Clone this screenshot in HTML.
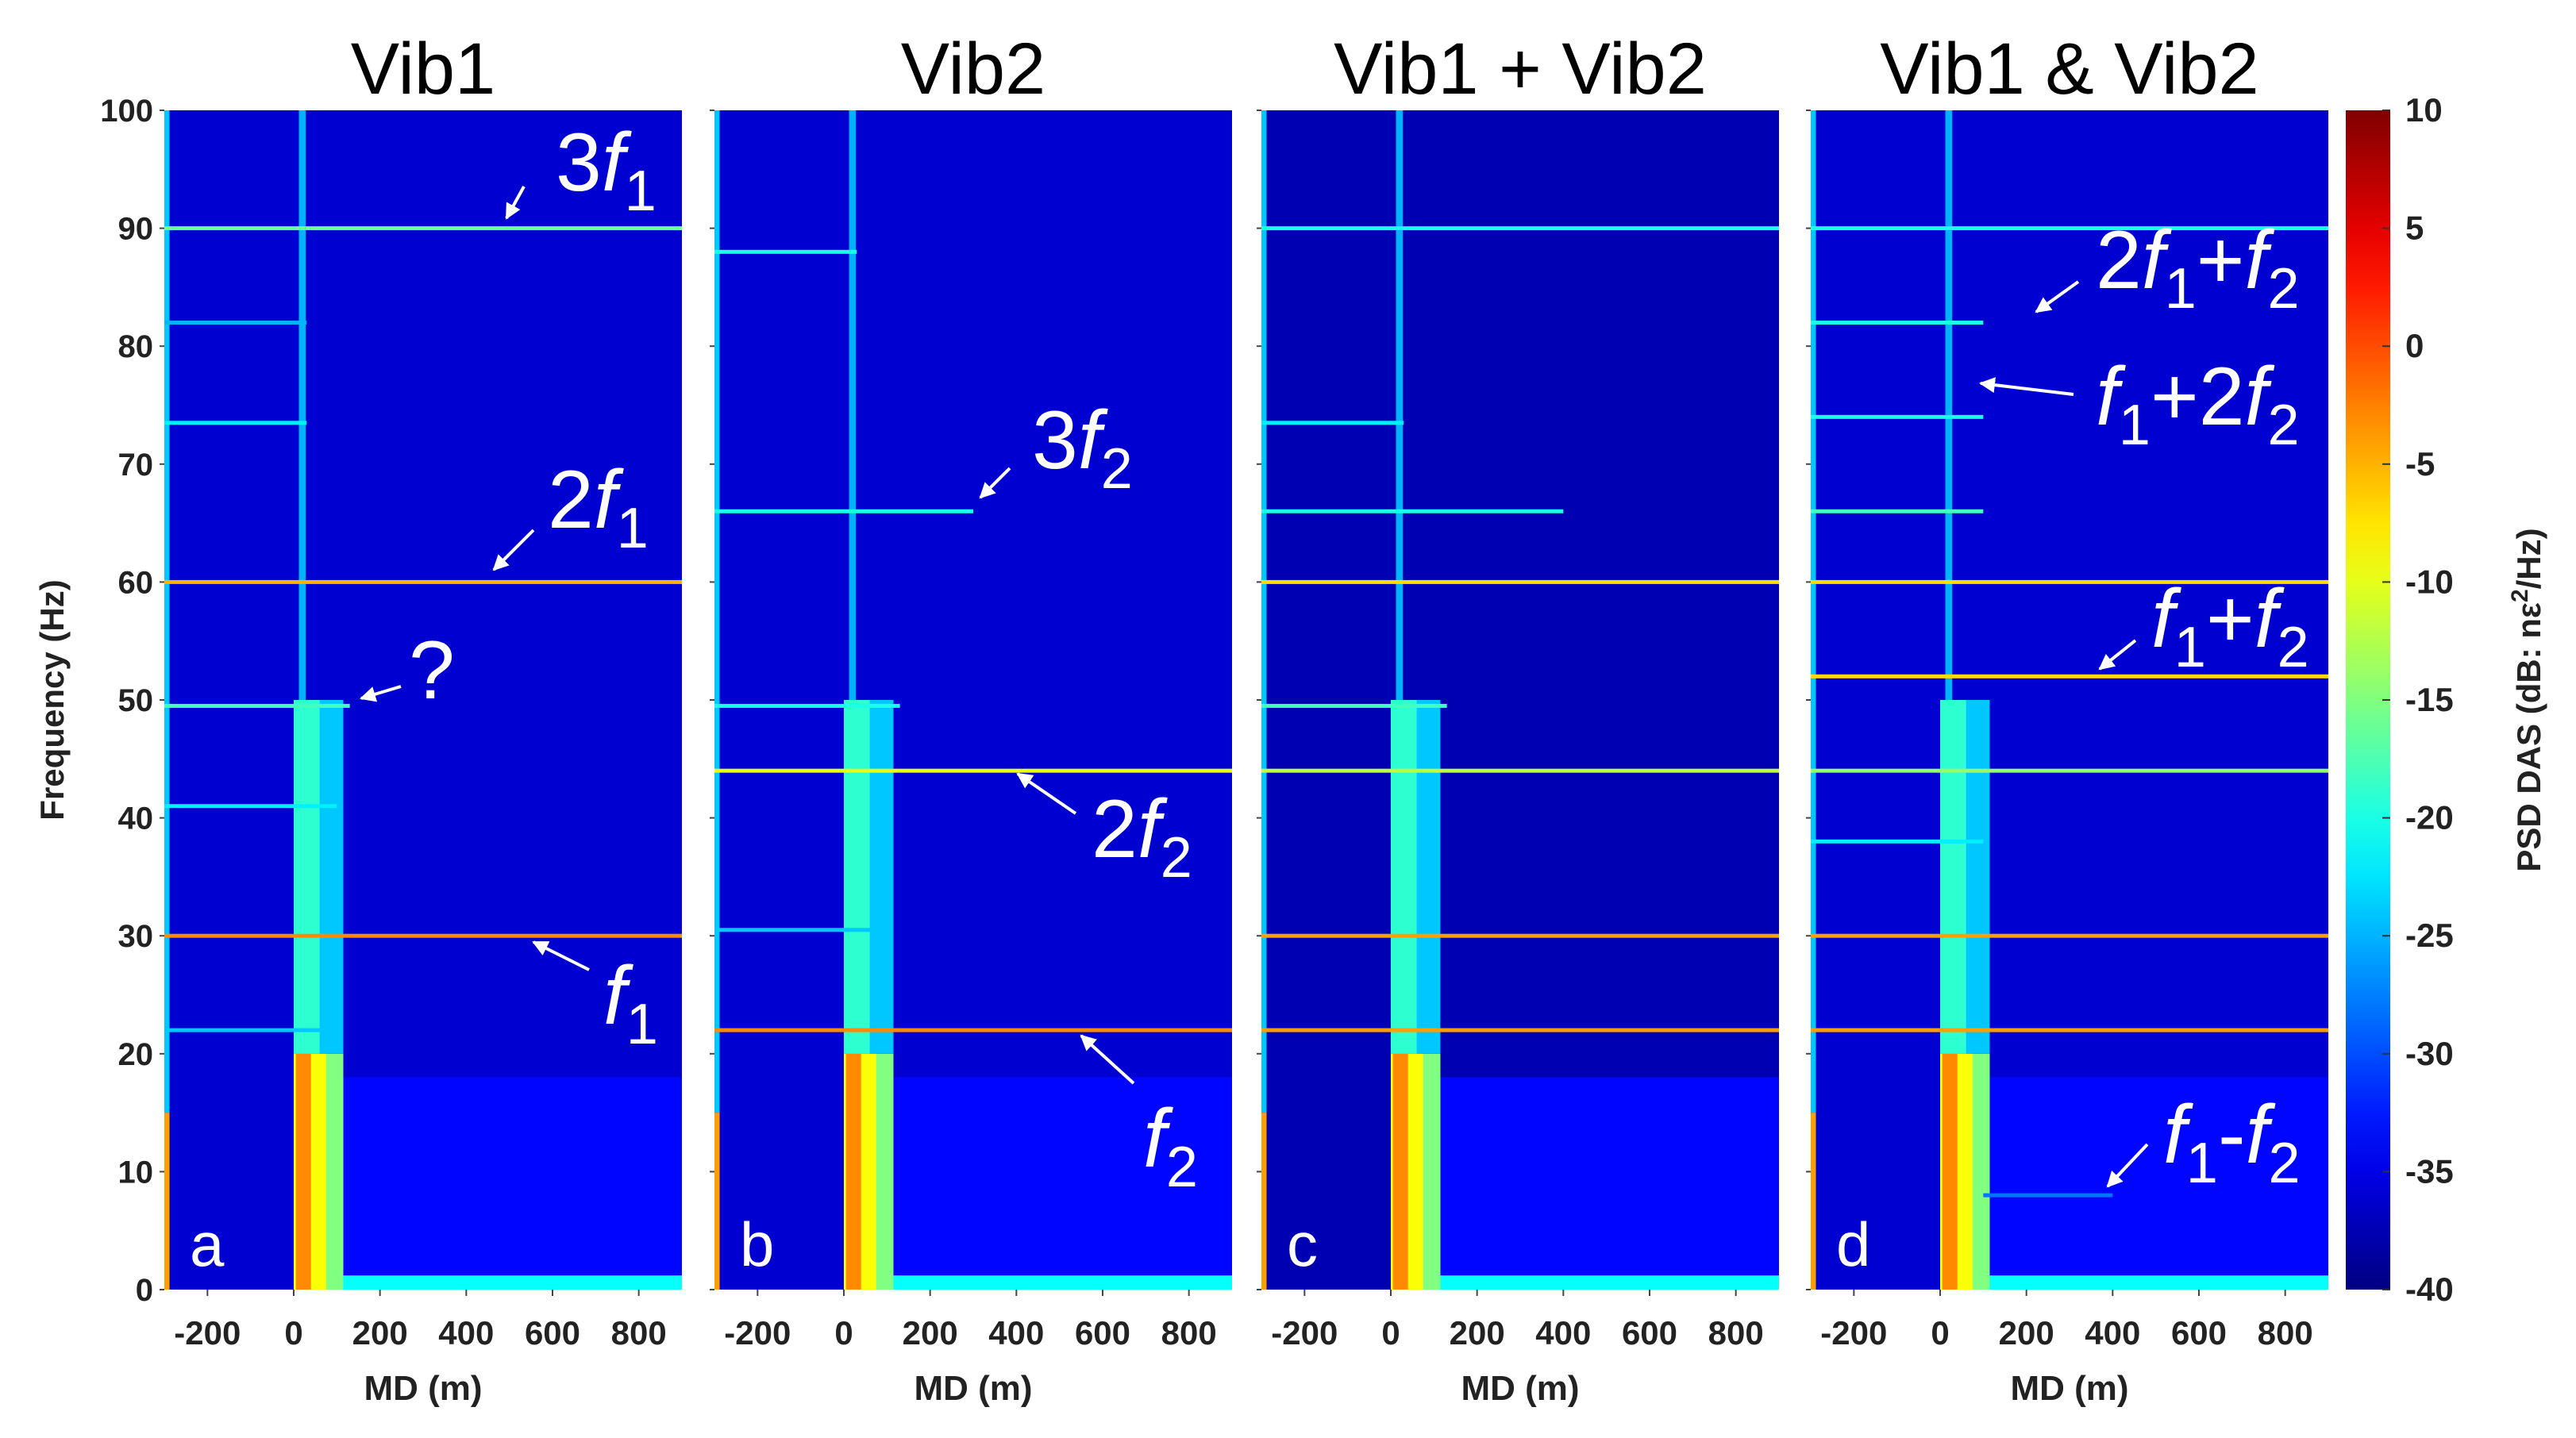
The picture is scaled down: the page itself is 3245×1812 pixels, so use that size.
<!DOCTYPE html>
<html><head><meta charset="utf-8"><style>
html,body{margin:0;padding:0;background:#fff;}
svg{display:block;font-family:"Liberation Sans",Arial,sans-serif;}
</style></head><body>
<svg id="chart" width="3245" height="1812" viewBox="0 0 3245 1812" xmlns="http://www.w3.org/2000/svg">
<defs><linearGradient id="jetgrad" x1="0" y1="1" x2="0" y2="0"></linearGradient>
<marker id="arr" viewBox="0 0 10 10" refX="9" refY="5" markerWidth="5" markerHeight="5" orient="auto"><path d="M0,0 L10,5 L0,10 z" fill="#fff"/></marker></defs>
<g id="panels"></g>
<g id="overlay"></g>
</svg>
<script>
// ---- data ----
const panelTitles = ["Vib1","Vib2","Vib1 + Vib2","Vib1 & Vib2"];
const panelLetters = ["a","b","c","d"];
const panelLefts = [207, 900, 1589, 2281];
const xTicks = [-200,0,200,400,600,800];
const yTicks = [0,10,20,30,40,50,60,70,80,90,100];
const cbTicks = [10,5,0,-5,-10,-15,-20,-25,-30,-35,-40];
const bgDb = [-36,-36,-37.5,-36];
// shared well / near-field features: [mdLo, mdHi, fLo, fHi, dB]
const wellMdLo = [100, 100, 0, 0, 5, 0, 0, 12, -300, -300];
const wellMdHi = [900, 900, 115, 75, 40, 115, 60, 28, -288, -288];
const wellFLo = [1.2, 0, 0, 0, 0, 20, 20, 50, 0, 15];
const wellFHi = [18, 1.2, 20, 20, 20, 50, 50, 100, 15, 100];
const wellDb = [-33.5, -21, -15, -9, -3, -24, -19, -25, -4, -24];
// horizontal lines per panel: freq, mdStart, mdEnd, dB
const lineFreq = [
 [30, 60, 90, 49.5, 73.5, 82, 41, 22],
 [22, 44, 66, 88, 49.5, 30.5],
 [30, 22, 60, 44, 66, 90, 49.5, 73.5],
 [30, 22, 60, 52, 44, 90, 82, 74, 66, 38, 8]
];
const lineStart = [
 [-300,-300,-300,-300,-300,-300,-300,-300],
 [-300,-300,-300,-300,-300,-300],
 [-300,-300,-300,-300,-300,-300,-300,-300],
 [-300,-300,-300,-300,-300,-300,-300,-300,-300,-300,100]
];
const lineEnd = [
 [900,900,900,130,30,30,100,100],
 [900,900,300,30,130,100],
 [900,900,900,900,400,900,130,30],
 [900,900,900,900,900,900,100,100,100,100,400]
];
const lineDb = [
 [-3,-5,-16,-18,-22,-25,-22,-24],
 [-3,-10,-20,-20,-20,-24],
 [-4,-4,-7,-12,-20,-20,-18,-22],
 [-4,-4,-7,-7,-14,-20,-20,-20,-18,-22,-28]
];
const annText = [
 [["3","f","1"],["2","f","1"],["?"],["","f","1"]],
 [["3","f","2"],["2","f","2"],["","f","2"]],
 [],
 [["2","f","1","+","f","2"],["","f","1","+2","f","2"],["","f","1","+","f","2"],["","f","1","-","f","2"]]
];
const annPos = [
 [[700,240,660,235,638,275],[690,665,672,668,622,718],[515,880,505,865,455,880],[760,1290,742,1222,672,1187]],
 [[1300,590,1272,590,1235,627],[1375,1080,1355,1025,1282,975],[1440,1470,1428,1365,1362,1305]],
 [],
 [[2640,363,2618,355,2565,393],[2640,535,2612,497,2495,483],[2710,815,2690,807,2645,843],[2725,1465,2705,1442,2655,1495]]
];
// ---- axes ----
const PW = 652, TOP = 139, BOT = 1625;
const MDmin = -300, MDmax = 900;
function xS(p, md){ return panelLefts[p] + (md-MDmin)/(MDmax-MDmin)*PW; }
function yS(f){ return BOT - f/100*(BOT-TOP); }
function jet(db){
  let t=(db+40)/50; t=Math.max(0,Math.min(1,t));
  const c=v=>Math.round(255*Math.max(0,Math.min(1,v)));
  return `rgb(${c(1.5-Math.abs(4*t-3))},${c(1.5-Math.abs(4*t-2))},${c(1.5-Math.abs(4*t-1))})`;
}
const NS="http://www.w3.org/2000/svg";
const G=document.getElementById('panels');
const OV=document.getElementById('overlay');
function mk(tag, attrs, parent){
  const e=document.createElementNS(NS,tag);
  for(const k in attrs) e.setAttribute(k,attrs[k]);
  parent.appendChild(e); return e;
}
for(let p=0;p<4;p++){
  const g=mk('g',{},G);
  
  
  const bg=mk('rect',{x:xS(p,MDmin),y:yS(100),width:PW,height:BOT-TOP,fill:jet(bgDb[p])},g);
  
  
  for(let i=0;i<wellDb.length;i++){
    const x0=xS(p,wellMdLo[i]), x1=xS(p,wellMdHi[i]);
    const r=mk('rect',{x:x0,y:yS(wellFHi[i]),width:x1-x0,height:yS(wellFLo[i])-yS(wellFHi[i]),fill:jet(wellDb[i])},g);
    
    
  }
  for(let i=0;i<lineFreq[p].length;i++){
    const x0=xS(p,lineStart[p][i]), x1=xS(p,lineEnd[p][i]);
    const r=mk('rect',{x:x0,y:yS(lineFreq[p][i])-2.5,width:x1-x0,height:5,fill:jet(lineDb[p][i])},g);
    
    
  }
  const t=mk('text',{x:panelLefts[p]+PW/2,y:118,'font-size':92,'text-anchor':'middle',fill:'#000'},g);
  t.textContent=panelTitles[p];
  
  
  for(const v of yTicks){
    mk('line',{x1:panelLefts[p]-6,x2:panelLefts[p],y1:yS(v),y2:yS(v),stroke:'#444','stroke-width':2},g);
    if(p===0){
      const tl=mk('text',{x:panelLefts[p]-14,y:yS(v)+14,'font-size':40,'font-weight':'bold','text-anchor':'end',fill:'#222'},g);
      tl.textContent=v;
      
      
    }
  }
  for(const v of xTicks){
    mk('line',{x1:xS(p,v),x2:xS(p,v),y1:BOT,y2:BOT+8,stroke:'#444','stroke-width':2},g);
    const tl=mk('text',{x:xS(p,v),y:1694,'font-size':42,'font-weight':'bold','text-anchor':'middle',fill:'#222'},g);
    tl.textContent=v;
    
    
  }
  const xl=mk('text',{x:panelLefts[p]+PW/2,y:1764,'font-size':44,'font-weight':'bold','text-anchor':'middle',fill:'#222'},g);
  xl.textContent='MD (m)';
  
  
  const lt=mk('text',{x:panelLefts[p]+32,y:1595,'font-size':78,fill:'#fff'},g);
  lt.textContent=panelLetters[p];
  
  
  for(let i=0;i<annText[p].length;i++){
    const a=annText[p][i], q=annPos[p][i];
    const tx=mk('text',{x:q[0],y:q[1],'font-size':104,fill:'#fff'},OV);
    
    
    let k=0;
    while(k<a.length){
      const pieces=[[a[k],''],[a[k+1],'i'],[a[k+2],'s']];
      for(const [s,st] of pieces){
        if(s===undefined||s==='') continue;
        const ts=mk('tspan',{},tx);
        if(st==='i'){ts.setAttribute('font-style','italic');}
        if(st==='s'){ts.setAttribute('baseline-shift','-35%');ts.setAttribute('font-size','72');}
        ts.textContent=s;
      }
      k+=3;
    }
    const ar=mk('line',{x1:q[2],y1:q[3],x2:q[4],y2:q[5],stroke:'#fff','stroke-width':4,'marker-end':'url(#arr)'},OV);
    
    
  }
}
const yt=mk('text',{x:0,y:0,'font-size':42,'font-weight':'bold','text-anchor':'middle',fill:'#222',transform:`translate(80,${(TOP+BOT)/2}) rotate(-90)`},OV);
yt.textContent='Frequency (Hz)';


const grad=document.getElementById('jetgrad');
for(let i=0;i<=20;i++){ mk('stop',{offset:(i/20),'stop-color':jet(-40+50*i/20)},grad); }
const CBX=2955, CBW=56;
const cb=mk('rect',{x:CBX,y:TOP,width:CBW,height:BOT-TOP,fill:'url(#jetgrad)'},OV);


function cbY(v){ return BOT-(v+40)/50*(BOT-TOP); }
for(const v of cbTicks){
  mk('line',{x1:CBX+CBW-10,x2:CBX+CBW,y1:cbY(v),y2:cbY(v),stroke:'#333','stroke-width':2},OV);
  const tl=mk('text',{x:3030,y:cbY(v)+14,'font-size':42,'font-weight':'bold',fill:'#222'},OV);
  tl.textContent=v;
  
  
}
const ct=mk('text',{x:0,y:0,'font-size':42,'font-weight':'bold','text-anchor':'middle',fill:'#222',transform:`translate(3200,${(TOP+BOT)/2}) rotate(-90)`},OV);


ct.innerHTML='PSD DAS (dB: n\u03b5<tspan baseline-shift="super" font-size="30">2</tspan>/Hz)';
</script>
</body></html>
